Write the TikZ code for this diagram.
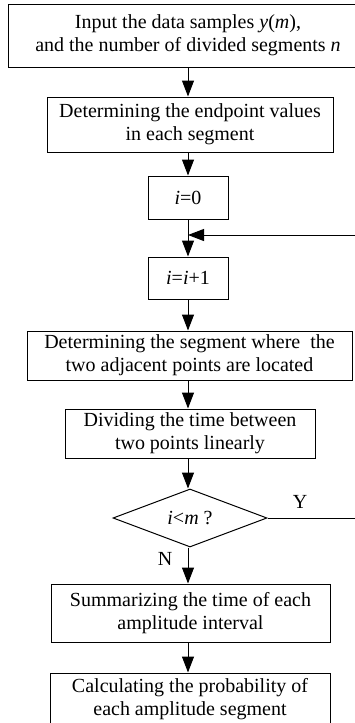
\documentclass[tikz,border=0pt]{standalone}
\usepackage{fontspec}
\setmainfont{Liberation Serif}
\usetikzlibrary{arrows.meta,shapes.geometric}
\begin{document}
\begin{tikzpicture}[x=1pt,y=-1pt,
  every node/.style={font=\fontsize{20}{23}\selectfont},
  box/.style={draw,line width=1pt,align=center,inner sep=0pt},
  dec/.style={draw,line width=1pt,diamond,aspect=2.65,inner sep=0pt},
  flow/.style={line width=1pt,-{Triangle[width=12pt,length=16pt]}},
  lbl/.style={inner sep=0pt}]
\useasboundingbox (0,0) rectangle (355,723);
\clip (0,0) rectangle (355,723);
\node[box,minimum width=360pt,minimum height=63pt] (b1) at (188,35.5) {Input the data samples \textit{y}(\textit{m}),\\and the number of divided segments \textit{n}};
\node[box,minimum width=286pt,minimum height=55pt] (b2) at (190,124.5) {Determining the endpoint values\\in each segment};
\node[box,minimum width=80pt,minimum height=43pt] (b3) at (188,197.5) {\textit{i}=0};
\node[box,minimum width=80pt,minimum height=42pt] (b4) at (188,278) {\textit{i}=\textit{i}+1};
\node[box,minimum width=325pt,minimum height=49pt] (b5) at (189.5,355.5) {Determining the segment where\ \ the\\two adjacent points are located};
\node[box,minimum width=250pt,minimum height=49pt] (b6) at (190,433.5) {Dividing the time between\\two points linearly};
\node[dec,minimum width=154pt,minimum height=58pt] (d) at (190,518) {\textit{i}<\textit{m} ?};
\node[box,minimum width=279pt,minimum height=58pt] (b7) at (190.5,613) {Summarizing the time of each\\amplitude interval};
\node[box,minimum width=280pt,minimum height=52pt] (b8) at (190,699) {Calculating the probability of\\each amplitude segment};
\coordinate (fb) at (188,235);
\coordinate (loopr) at (370,235);
\node[lbl] (ylab) at (300,502) {Y};
\node[lbl] (nlab) at (165,559) {N};
\draw[flow] (b1.south -| b3) -- (b2.north -| b3);
\draw[flow] (b2.south -| b3) -- (b3.north);
\draw[flow] (b3.south) -- (b4.north);
\draw[flow] (loopr) -- (fb);
\draw[flow] (b4.south) -- (b5.north -| b4);
\draw[flow] (b5.south -| b4) -- (b6.north -| b4);
\draw[flow] (b6.south -| b4) -- (d.north -| b4);
\draw[flow] (d.south -| b4) -- (b7.north -| b4);
\draw[flow] (b7.south -| b4) -- (b8.north -| b4);
\draw[line width=1pt] (d.east) -- (d.east -| loopr) -- (loopr);
\end{tikzpicture}
\end{document}
